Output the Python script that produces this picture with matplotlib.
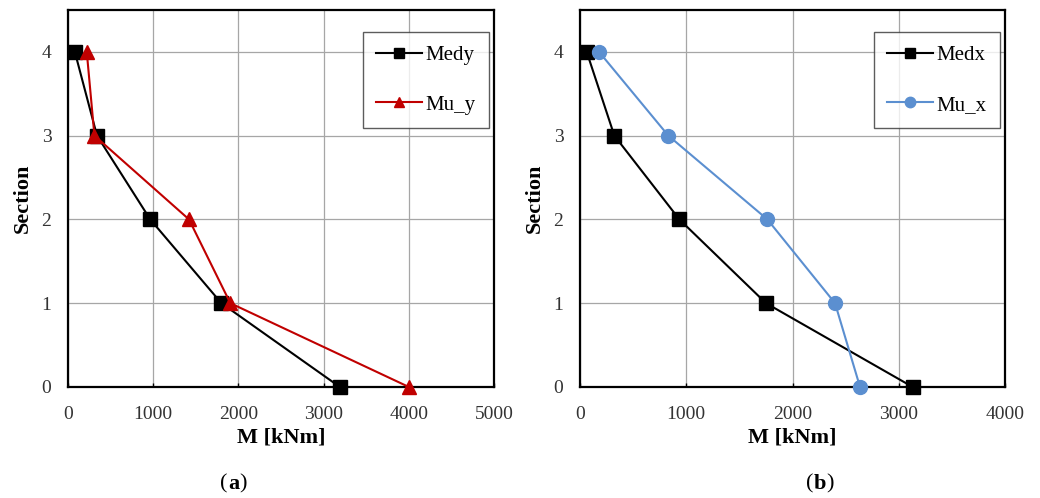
import matplotlib.pyplot as plt

plt.rcParams['font.family'] = ['Liberation Serif', 'DejaVu Serif']

# Section numbers
section = [4, 3, 2, 1, 0]

# (a) y-direction moments [kNm]
Medy = [80, 340, 965, 1800, 3190]
Mu_y = [220, 310, 1420, 1905, 4000]

# (b) x-direction moments [kNm]
Medx = [63, 323, 935, 1750, 3130]
Mu_x = [179, 831, 1763, 2400, 2635]

red = '#C00000'
blue = '#5B8FD0'

fig = plt.figure(figsize=(10.4, 4.98), dpi=100)
axa = fig.add_axes([0.0654, 0.223, 0.4096, 0.757])
axb = fig.add_axes([0.5577, 0.223, 0.4087, 0.757])


def style(ax, xmax, xticks):
    ax.set_xlim(0, xmax)
    ax.set_ylim(0, 4.5)
    ax.set_xticks(xticks)
    ax.set_yticks([0, 1, 2, 3, 4])
    ax.grid(True, color='#a6a6a6', linewidth=0.9)
    ax.set_axisbelow(True)
    for s in ax.spines.values():
        s.set_linewidth(1.6)
        s.set_color('black')
    ax.tick_params(direction='in', length=3, width=1, labelsize=14,
                   colors='black', labelcolor='#333333', pad=14)
    ax.tick_params(axis='y', length=0, pad=12)
    ax.set_xlabel('M [kNm]', fontsize=16, fontweight='bold', labelpad=3)
    ax.set_ylabel('Section', fontsize=16, fontweight='bold', labelpad=6)


def legend(ax):
    leg = ax.legend(loc='upper right', bbox_to_anchor=(0.988, 0.942),
                    borderaxespad=0, fontsize=15,
                    frameon=True, fancybox=False, edgecolor='#333333',
                    labelspacing=1.45, handlelength=2.2, handletextpad=0.15,
                    borderpad=0.65, markerscale=0.75)
    leg.get_frame().set_linewidth(1.0)


# Panel (a)
axa.plot(Medy, section, color='black', marker='s', markersize=10,
         linewidth=1.5, label='Medy', clip_on=False, zorder=3)
axa.plot(Mu_y, section, color=red, marker='^', markersize=10,
         linewidth=1.5, label='Mu_y', clip_on=False, zorder=4)
style(axa, 5000, [0, 1000, 2000, 3000, 4000, 5000])
legend(axa)

# Panel (b)
axb.plot(Medx, section, color='black', marker='s', markersize=10,
         linewidth=1.5, label='Medx', clip_on=False, zorder=3)
axb.plot(Mu_x, section, color=blue, marker='o', markersize=10,
         linewidth=1.5, label='Mu_x', clip_on=False, zorder=4)
style(axb, 4000, [0, 1000, 2000, 3000, 4000])
legend(axb)

ty = 0.028
fig.text(0.219, ty, '(', fontsize=16, ha='right', va='center')
fig.text(0.219, ty, 'a', fontsize=16, fontweight='bold', ha='left', va='center')
fig.text(0.2305, ty, ')', fontsize=16, ha='left', va='center')
fig.text(0.782, ty, '(', fontsize=16, ha='right', va='center')
fig.text(0.782, ty, 'b', fontsize=16, fontweight='bold', ha='left', va='center')
fig.text(0.7945, ty, ')', fontsize=16, ha='left', va='center')

fig.savefig('out.png', dpi=100)
